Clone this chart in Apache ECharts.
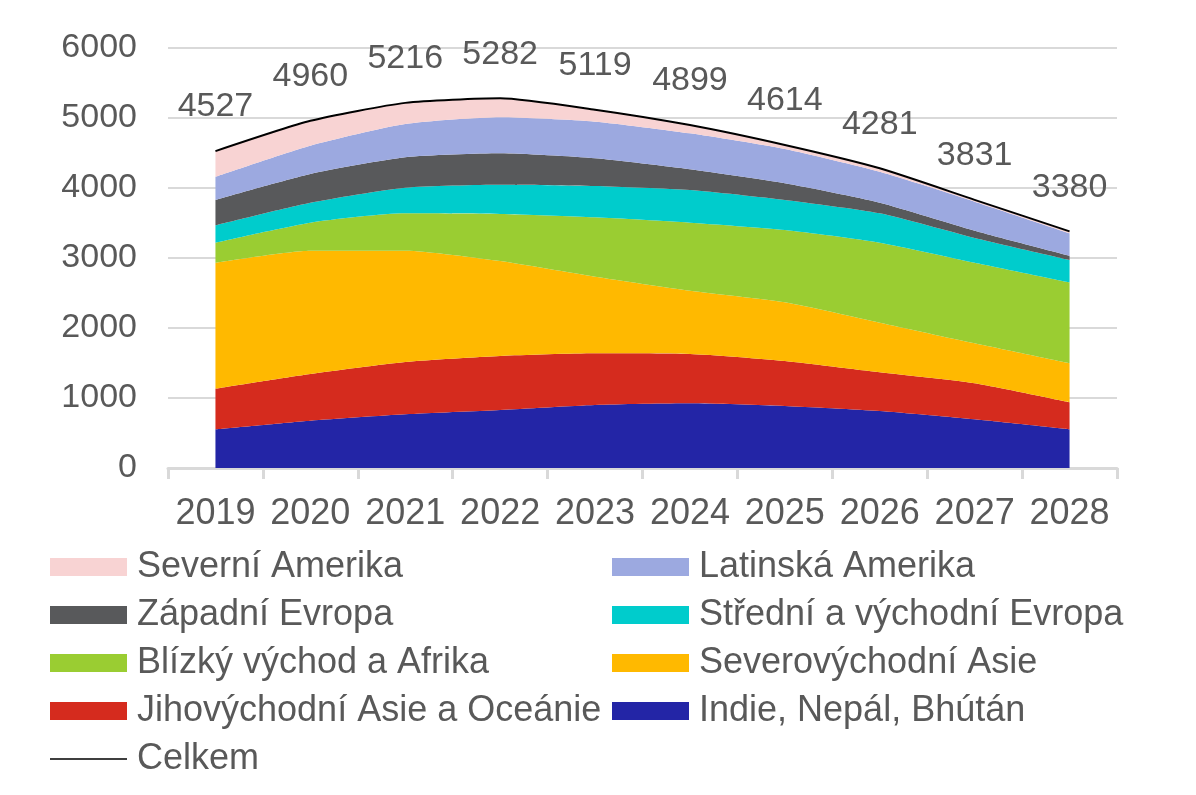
<!DOCTYPE html>
<html>
<head>
<meta charset="utf-8">
<script src="https://cdn.jsdelivr.net/npm/echarts@6/dist/echarts.min.js"></script>
<style>
html,body{margin:0;padding:0;background:#fff;}
#chart{width:1196px;height:795px;}
</style>
</head>
<body>
<div id="chart"></div>
<script>
const years = ['2019','2020','2021','2022','2023','2024','2025','2026','2027','2028'];
const indie      = [552, 676, 767, 829, 900, 924, 886, 814, 695, 552];
const jvAsie     = [581, 667, 747, 771, 738, 705, 643, 553, 515, 386];
const svAsie     = [1800, 1762, 1591, 1357, 1095, 904, 838, 709, 571, 557];
const blizkyVych = [286, 400, 533, 672, 848, 972, 1033, 1143, 1152, 1157];
const stredniEvr = [248, 285, 367, 419, 448, 466, 429, 419, 353, 319];
const zapadniEvr = [362, 410, 433, 447, 395, 296, 238, 152, 104, 62];
const latAmerika = [332, 405, 476, 515, 524, 514, 490, 441, 415, 320];
const sevAmerika = [366, 355, 302, 272, 171, 118, 57, 50, 26, 27];
const celkem     = [4527, 4960, 5216, 5282, 5119, 4899, 4614, 4281, 3831, 3380];
const yTicks = [0, 1000, 2000, 3000, 4000, 5000, 6000];

const FONT = "'Liberation Sans', Arial, sans-serif";
const TXT = '#595959';
const SMOOTH = 0.2;

const areas = [
  {name:'Indie, Nepál, Bhútán', data:indie, color:'#2325a6'},
  {name:'Jihovýchodní Asie a Oceánie', data:jvAsie, color:'#d52b1e'},
  {name:'Severovýchodní Asie', data:svAsie, color:'#ffb900'},
  {name:'Blízký východ a Afrika', data:blizkyVych, color:'#9acd32'},
  {name:'Střední a východní Evropa', data:stredniEvr, color:'#00cccc'},
  {name:'Západní Evropa', data:zapadniEvr, color:'#58595b'},
  {name:'Latinská Amerika', data:latAmerika, color:'#9ca9e0'},
  {name:'Severní Amerika', data:sevAmerika, color:'#f8d3d3'}
];

const series = areas.map(a => ({
  name: a.name,
  type: 'line',
  stack: 'total',
  data: a.data,
  smooth: SMOOTH,
  symbol: 'none',
  lineStyle: {width: 0, color: a.color},
  itemStyle: {color: a.color},
  areaStyle: {color: a.color, opacity: 1},
  emphasis: {disabled: true}
}));
series.push({
  name: 'Celkem',
  type: 'line',
  data: celkem,
  smooth: SMOOTH,
  symbol: 'circle',
  symbolSize: 0,
  showSymbol: true,
  z: 10,
  lineStyle: {width: 2, color: '#000'},
  itemStyle: {color: '#000'},
  label: {show: true, position: 'top', distance: 27, color: TXT, fontSize: 34, fontFamily: FONT},
  emphasis: {disabled: true}
});

const legendText = {color: TXT, fontSize: 36, fontFamily: FONT, lineHeight: 48, padding: [0,0,0,5]};
const leftItems = ['Severní Amerika','Západní Evropa','Blízký východ a Afrika','Jihovýchodní Asie a Oceánie'];
const rightItems = ['Latinská Amerika','Střední a východní Evropa','Severovýchodní Asie','Indie, Nepál, Bhútán'];
const lineIcon = 'path://M0,0H0.01V0.01H0Z M0,8.25H77V9.75H0Z M0,17.99H0.01V18H0Z';

const option = {
  animation: false,
  backgroundColor: '#fff',
  grid: {left: 168, right: 79, top: 48, bottom: 327, containLabel: false},
  xAxis: {
    type: 'category',
    data: years,
    boundaryGap: true,
    axisLine: {show: true, lineStyle: {color: '#d9d9d9', width: 3}},
    axisTick: {show: true, length: 11, interval: 0, lineStyle: {color: '#d9d9d9', width: 3}},
    axisLabel: {color: TXT, fontSize: 36, fontFamily: FONT, margin: 28, interval: 0}
  },
  yAxis: {
    type: 'value',
    min: yTicks[0],
    max: yTicks[yTicks.length-1],
    interval: 1000,
    axisLine: {show: false},
    axisTick: {show: false},
    axisLabel: {color: TXT, fontSize: 34, fontFamily: FONT, margin: 31, formatter: v => String(v)},
    splitLine: {lineStyle: {color: '#d9d9d9', width: 2}}
  },
  legend: [
    {
      orient: 'vertical', left: 50, top: 543, itemGap: 0, padding: 0,
      itemWidth: 77, itemHeight: 18,
      selectedMode: false,
      textStyle: legendText,
      data: leftItems.map(n => ({name: n, icon: 'rect'})).concat([{name: 'Celkem', icon: lineIcon}])
    },
    {
      orient: 'vertical', left: 612, top: 543, itemGap: 0, padding: 0,
      itemWidth: 77, itemHeight: 18,
      selectedMode: false,
      textStyle: legendText,
      data: rightItems.map(n => ({name: n, icon: 'rect'}))
    }
  ],
  series: series
};

const chart = echarts.init(document.getElementById('chart'), null, {renderer: 'canvas'});
chart.setOption(option);
</script>
</body>
</html>
